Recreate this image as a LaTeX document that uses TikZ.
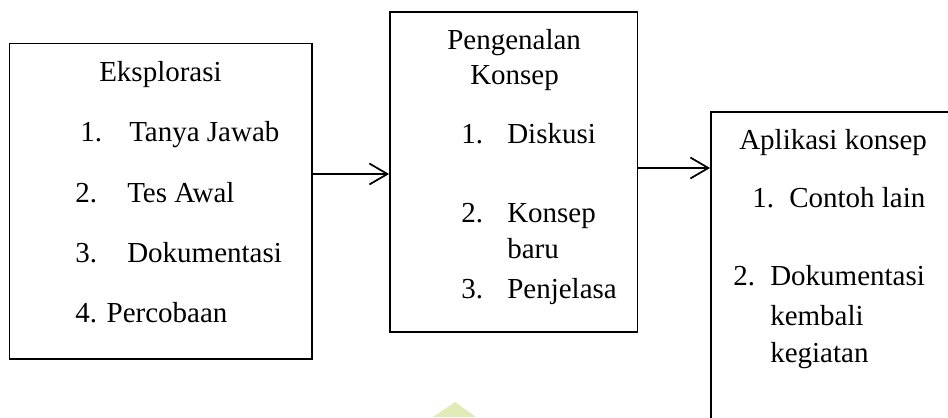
\documentclass[tikz,border=0pt]{standalone}
\usepackage{fontspec}
\setmainfont{Liberation Serif}
\usetikzlibrary{arrows.meta}
\tikzset{
  boxstyle/.style={draw=black, line width=1.4pt, inner sep=0pt, fill=none},
  txt/.style={anchor=base west, inner sep=0pt, font=\fontsize{21.75pt}{26pt}\selectfont},
  conn/.style={line width=1.3pt, -{Straight Barb[length=13.5pt,width=15.75pt,line width=1.3pt]}}
}
\begin{document}
\begin{tikzpicture}[x=0.75pt,y=-0.75pt]
\useasboundingbox (0,0) rectangle (948,417);
\clip (0,0) rectangle (948,417);
% watermark shape
\fill[fill={rgb,255:red,224;green,235;blue,184}] (433,417) -- (455,402) -- (476,417) -- cycle;
% boxes
\node[boxstyle, minimum width=226.9pt, minimum height=236.6pt] (box1) at (160.75,201.25) {};
\node[boxstyle, minimum width=185.6pt, minimum height=240pt] (box2) at (513.75,172) {};
\node[boxstyle, minimum width=216.75pt, minimum height=268.5pt] (box3) at (855.5,291) {};
% box 1 texts
\node[txt] (t1) at (99,82) {Eksplorasi};
\node[txt] (n11) at (80,142) {1.};
\node[txt] (i11) at (129,142) {Tanya Jawab};
\node[txt] (n12) at (75,202) {2.};
\node[txt] (i12) at (127,202) {Tes Awal};
\node[txt] (n13) at (75,262) {3.};
\node[txt] (i13) at (127,262) {Dokumentasi};
\node[txt] (i14) at (75,322) {4. Percobaan};
% box 2 texts
\node[txt] (t2a) at (447,50) {Pengenalan};
\node[txt] (t2b) at (470,85) {Konsep};
\node[txt] (n21) at (461,143) {1.};
\node[txt] (i21) at (507,143) {Diskusi};
\node[txt] (n22) at (461,222) {2.};
\node[txt] (i22) at (507,222) {Konsep};
\node[txt] (i22b) at (507,258) {baru};
\node[txt] (n23) at (461,298) {3.};
\node[txt] (i23) at (507,298) {Penjelasa};
% box 3 texts
\node[txt] (t3) at (739,150) {Aplikasi konsep};
\node[txt] (n31) at (752,207) {1.};
\node[txt] (i31) at (789,207) {Contoh lain};
\node[txt] (n32) at (733,285) {2.};
\node[txt] (i32) at (770,285) {Dokumentasi};
\node[txt] (i32b) at (770,325) {kembali};
\node[txt] (i32c) at (770,362) {kegiatan};
% connectors
\draw[conn] (box1.east |- 0,174) -- (box2.west |- 0,174);
\draw[conn] (box2.east |- 0,168) -- (box3.west |- 0,168);
\end{tikzpicture}
\end{document}
